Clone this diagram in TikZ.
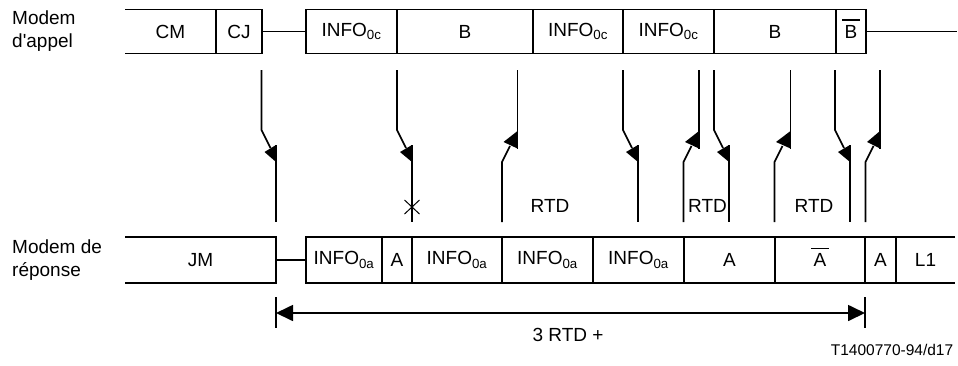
\documentclass[tikz,border=0pt]{standalone}
\usepackage{fontspec}
\setmainfont{Liberation Sans}
\usetikzlibrary{arrows.meta}
\newcommand\sigdown[2]{%
  \draw[sig] (#1,70) -- (#1,130) -- (#1+9,148);
  \fill (#1+3,152) -- (#2,145) -- (#2,162) -- cycle;
  \draw[sig] (#2,145) -- (#2,222);}
\newcommand\sigup[2]{%
  \draw[sig] (#1,222) -- (#1,162) -- (#1+8,146);
  \fill (#1+1.5,142) -- (#2,131) -- (#2,148.5) -- cycle;
  \draw[sig] (#2,148.5) -- (#2,70);}
\begin{document}
\begin{tikzpicture}[x=1pt,y=-1pt,
  box/.style={line width=1.7pt},
  sig/.style={line width=1.7pt},
  bar/.style={line width=1.5pt},
  lbl/.style={font=\fontsize{19}{23}\selectfont, inner sep=0pt},
  side/.style={font=\fontsize{19}{23}\selectfont, inner sep=0pt, anchor=west, align=left},
  small/.style={font=\fontsize{15.5}{18}\selectfont, inner sep=0pt}]
\useasboundingbox (0,0) rectangle (958,365);
% side labels
\node[side] (mA) at (12,31.5) {Modem\\d\textquotesingle appel};
\node[side] (mR) at (12,260) {Modem de\\réponse};
% top row
\draw[box] (125,9.5) -- (262,9.5) -- (262,53.5) -- (125,53.5);
\draw[box] (216,9.5) -- (216,53.5);
\draw[box] (262,31.5) -- (306,31.5);
\draw[box] (306,9.5) rectangle (866,53.5);
\foreach \x in {397,533,623,714,836} \draw[box] (\x,9.5) -- (\x,53.5);
\draw[box] (866,31.5) -- (957,31.5);
\node[lbl] (t1) at (170.5,31.5) {CM};
\node[lbl] (t2) at (239,31.5) {CJ};
\node[lbl] (t3) at (351.5,31.5) {INFO\textsubscript{0c}};
\node[lbl] (t4) at (465,31.5) {B};
\node[lbl] (t5) at (578,31.5) {INFO\textsubscript{0c}};
\node[lbl] (t6) at (668.5,31.5) {INFO\textsubscript{0c}};
\node[lbl] (t7) at (775,31.5) {B};
\node[lbl] (t8) at (851,31.5) {B};
\draw[bar] ([xshift=-2pt,yshift=5pt]t8.north west) -- ([xshift=2pt,yshift=5pt]t8.north east);
% bottom row
\draw[box] (125,237) -- (276,237) -- (276,283) -- (125,283);
\draw[box] (276,260) -- (306,260);
\draw[box] (955,237) -- (306,237) -- (306,283) -- (955,283);
\foreach \x in {382,412,502,593,684,775,865,896} \draw[box] (\x,237) -- (\x,283);
\node[lbl] (b1) at (200.5,260) {JM};
\node[lbl] (b2) at (344,260) {INFO\textsubscript{0a}};
\node[lbl] (b3) at (397,260) {A};
\node[lbl] (b4) at (457,260) {INFO\textsubscript{0a}};
\node[lbl] (b5) at (547.5,260) {INFO\textsubscript{0a}};
\node[lbl] (b6) at (638.5,260) {INFO\textsubscript{0a}};
\node[lbl] (b7) at (729.5,260) {A};
\node[lbl] (b8) at (820,260) {A};
\draw[bar] ([xshift=-2pt,yshift=5pt]b8.north west) -- ([xshift=2pt,yshift=5pt]b8.north east);
\node[lbl] (b9) at (880.5,260) {A};
\node[lbl] (b10) at (925.5,260) {L1};
% signals
\sigdown{261.5}{276}
\sigdown{397}{412}
\sigup{502}{517.5}
\sigdown{623}{638}
\sigup{683.5}{699}
\sigdown{714}{729}
\sigup{774.5}{790.5}
\sigdown{835}{850}
\sigup{865.5}{880}
\draw[line width=1pt] (404.5,200) -- (419.5,214) (404.5,214) -- (419.5,200);
\node[lbl] (r1) at (550,206) {RTD};
\node[lbl] (r2) at (707.5,206) {RTD};
\node[lbl] (r3) at (814,206) {RTD};
% bottom dimension arrow
\coordinate (dl) at (276,313);
\coordinate (dr) at (865,313);
\draw[box] (276,297) -- (276,328);
\draw[box] (865,297) -- (865,328);
\draw[box, {Triangle[length=17pt,width=16pt]}-{Triangle[length=17pt,width=16pt]}] (dl) -- (dr);
\node[lbl] (tot) at (568,335) {3 RTD +};
\node[small] (ref) at (892,350) {T1400770-94/d17};
\end{tikzpicture}
\end{document}
